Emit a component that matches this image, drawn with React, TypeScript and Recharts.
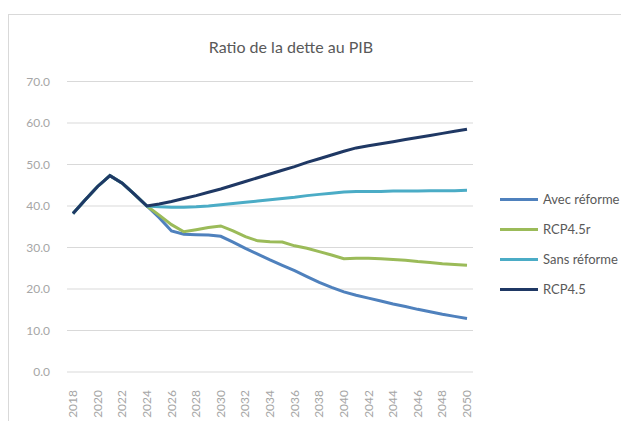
import React from 'react';
import { LineChart, Line, XAxis, YAxis, CartesianGrid, Legend } from 'recharts';

const years = [
  2018, 2019, 2020, 2021, 2022, 2023, 2024, 2025, 2026, 2027, 2028, 2029, 2030,
  2031, 2032, 2033, 2034, 2035, 2036, 2037, 2038, 2039, 2040, 2041, 2042, 2043,
  2044, 2045, 2046, 2047, 2048, 2049, 2050,
];

const avecReforme = [
  38.2, 41.5, 44.7, 47.3, 45.5, 42.8, 40.0, 37.2, 34.0, 33.2, 33.1, 33.0, 32.7,
  31.3, 29.8, 28.4, 27.0, 25.7, 24.4, 23.0, 21.6, 20.4, 19.3, 18.5, 17.8, 17.1,
  16.4, 15.8, 15.1, 14.5, 13.9, 13.4, 12.9,
];

const rcp45r = [
  38.2, 41.5, 44.7, 47.3, 45.5, 42.8, 40.0, 37.8, 35.5, 33.8, 34.3, 34.8, 35.2,
  34.0, 32.6, 31.6, 31.4, 31.3, 30.4, 29.8, 29.0, 28.2, 27.3, 27.4, 27.4, 27.3,
  27.1, 26.9, 26.6, 26.4, 26.1, 25.9, 25.7,
];

const sansReforme = [
  38.2, 41.5, 44.7, 47.3, 45.5, 42.8, 40.0, 39.8, 39.7, 39.7, 39.8, 40.0, 40.3,
  40.6, 40.9, 41.2, 41.5, 41.8, 42.1, 42.5, 42.8, 43.1, 43.4, 43.5, 43.5, 43.5,
  43.6, 43.6, 43.6, 43.7, 43.7, 43.7, 43.8,
];

const rcp45 = [
  38.2, 41.5, 44.7, 47.3, 45.5, 42.8, 40.0, 40.5, 41.1, 41.8, 42.5, 43.3, 44.1,
  45.0, 45.9, 46.8, 47.7, 48.6, 49.5, 50.5, 51.4, 52.3, 53.2, 54.0, 54.5, 55.0,
  55.5, 56.0, 56.5, 57.0, 57.5, 58.0, 58.5,
];

const yTicks = [0, 10, 20, 30, 40, 50, 60, 70];

const seriesNames = ['Avec réforme', 'RCP4.5r', 'Sans réforme', 'RCP4.5'];
const seriesColors = ['#4f81bd', '#9bbb59', '#4bacc6', '#1f3864'];
const seriesKeys = ['avec', 'rcp45r', 'sans', 'rcp45'];

const data = years.map((y, i) => ({
  year: String(y),
  avec: avecReforme[i],
  rcp45r: rcp45r[i],
  sans: sansReforme[i],
  rcp45: rcp45[i],
}));

const FONT = 'Lato, "Open Sans", sans-serif';

const XTick = (props: any) => {
  const { x, y, payload } = props;
  const ty = y + 10;
  return (
    <text
      x={x + 4}
      y={ty}
      transform={`rotate(-90 ${x + 4} ${ty})`}
      textAnchor="end"
      fill="#a6a6a6"
      fontSize={12}
      fontFamily={FONT}
    >
      {payload.value}
    </text>
  );
};

const LegendContent = () => (
  <div style={{ fontFamily: FONT, fontSize: 13, color: '#595959' }}>
    {seriesNames.map((n, i) => (
      <div key={n} style={{ display: 'flex', alignItems: 'center', height: 30 }}>
        <div style={{ width: 38, height: 3, background: seriesColors[i], marginRight: 5 }} />
        <span>{n}</span>
      </div>
    ))}
  </div>
);

export default function App() {
  return (
    <div style={{ position: 'absolute', left: 0, top: 0, width: 621, height: 421, background: '#fff', overflow: 'hidden' }}>
      <div
        style={{
          position: 'absolute',
          left: 8,
          top: 14,
          width: 640,
          height: 440,
          border: '1px solid #d9d9d9',
        }}
      />
      <div
        style={{
          position: 'absolute',
          left: 0,
          top: 37,
          width: 582,
          textAlign: 'center',
          fontFamily: FONT,
          fontSize: 16,
          lineHeight: '20px',
          color: '#595959',
        }}
      >
        Ratio de la dette au PIB
      </div>
      <div style={{ position: 'absolute', left: 0, top: 0 }}>
        <LineChart
          width={621}
          height={421}
          data={data}
          margin={{ top: 81.5, left: 7, right: 148, bottom: 0 }}
        >
          <CartesianGrid vertical={false} stroke="#d9d9d9" strokeWidth={1} />
          <XAxis
            dataKey="year"
            interval={1}
            height={49}
            axisLine={false}
            tickLine={false}
            padding={{ left: 6, right: 6 }}
            tick={<XTick />}
          />
          <YAxis
            width={60}
            domain={[0, 70]}
            ticks={yTicks}
            axisLine={false}
            tickLine={false}
            tickMargin={11}
            tickFormatter={(v: number) => v.toFixed(1)}
            tick={{ fill: '#a6a6a6', fontSize: 12, fontFamily: FONT }}
          />
          {seriesKeys.map((k, i) => (
            <Line
              key={k}
              type="linear"
              dataKey={k}
              name={seriesNames[i]}
              stroke={seriesColors[i]}
              strokeWidth={3}
              dot={false}
              isAnimationActive={false}
            />
          ))}
          <Legend
            layout="vertical"
            align="center"
            verticalAlign="middle"
            content={<LegendContent />}
            wrapperStyle={{ position: 'absolute', left: 500, top: 184, width: 121 }}
          />
        </LineChart>
      </div>
    </div>
  );
}
